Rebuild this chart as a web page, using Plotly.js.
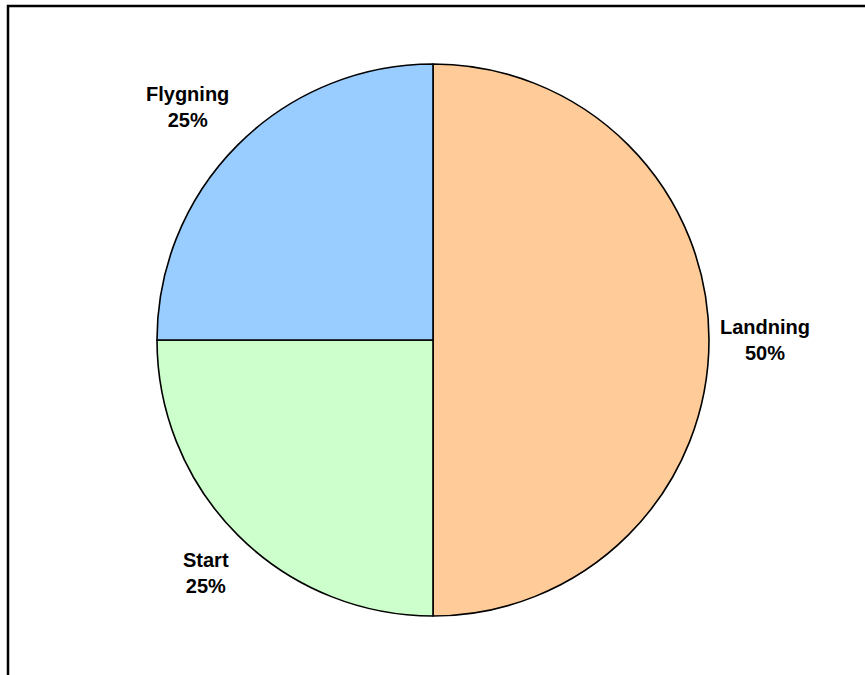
<!DOCTYPE html>
<html>
<head>
<meta charset="utf-8">
<script src="https://cdn.plot.ly/plotly-3.0.1.min.js"></script>
<style>html,body{margin:0;padding:0;background:#fff;}#chart{width:865px;height:675px;}</style>
</head>
<body>
<div id="chart"></div>
<script>
const labels = ["Landning", "Start", "Flygning"];
const values = [50, 25, 25];
const colors = ["#FFCC99", "#CCFFCC", "#99CCFF"];

const W = 865, H = 675;
const cx = 433, cy = 340, r = 276;
const labelPos = [[765, 340], [206, 573], [187, 107]];

const total = values.reduce((a, b) => a + b, 0);
const annotations = labels.map((l, i) => ({
  xref: "paper", yref: "paper",
  x: labelPos[i][0] / W, y: 1 - labelPos[i][1] / H,
  xanchor: "center", yanchor: "middle",
  text: "<b>" + l + "<br>" + Math.round(values[i] / total * 100) + "%</b>",
  showarrow: false,
  font: {family: "Liberation Sans, Arial, sans-serif", size: 20, color: "#000"}
}));

const trace = {
  type: "pie",
  labels: labels,
  values: values,
  sort: false,
  direction: "clockwise",
  rotation: 0,
  textinfo: "none",
  hoverinfo: "label+percent",
  marker: {colors: colors, line: {color: "#000", width: 1.6}},
  domain: {x: [(cx - r) / W, (cx + r) / W], y: [1 - (cy + r) / H, 1 - (cy - r) / H]}
};

const layout = {
  width: W, height: H,
  margin: {l: 0, r: 0, t: 0, b: 0},
  paper_bgcolor: "#fff",
  showlegend: false,
  annotations: annotations,
  shapes: [{
    type: "rect", xref: "paper", yref: "paper",
    x0: 8 / W, x1: 1.05, y0: -0.05, y1: 1 - 6 / H,
    line: {color: "#000", width: 2.5}, fillcolor: "rgba(0,0,0,0)"
  }]
};

Plotly.newPlot("chart", [trace], layout, {displayModeBar: false, staticPlot: true});
</script>
</body>
</html>
